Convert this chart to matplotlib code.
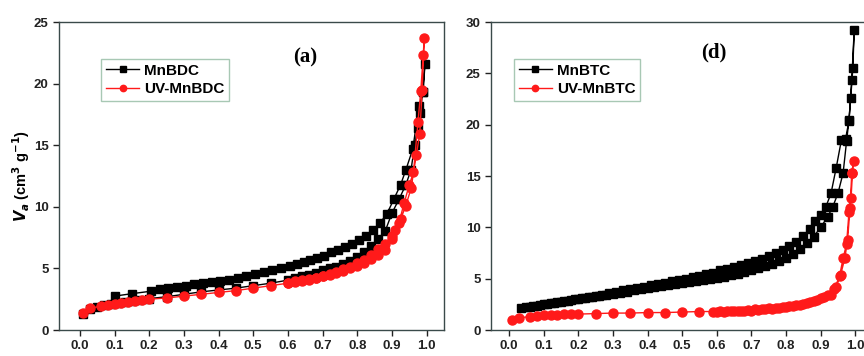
import matplotlib
matplotlib.use("Agg")
from matplotlib import pyplot as plt

# panel (a) - MnBDC / UV-MnBDC
bdc_ads_x = [0.01, 0.03, 0.05, 0.07, 0.09, 0.11, 0.13, 0.15, 0.17, 0.2, 0.25, 0.3, 0.35, 0.4,
             0.45, 0.5, 0.55, 0.6, 0.62, 0.64, 0.66, 0.68, 0.7, 0.72, 0.74, 0.76, 0.78, 0.8,
             0.82, 0.84, 0.86, 0.88, 0.9, 0.92, 0.94, 0.955, 0.965, 0.975, 0.982, 0.988, 0.995]
bdc_ads_y = [1.3, 1.7, 1.9, 2.0, 2.1, 2.2, 2.3, 2.35, 2.4, 2.55, 2.7, 2.9, 3.1, 3.25,
             3.4, 3.6, 3.8, 4.05, 4.2, 4.35, 4.5, 4.65, 4.85, 5.0, 5.15, 5.35, 5.6, 5.9,
             6.3, 6.8, 7.4, 8.0, 9.5, 10.6, 11.8, 13.0, 15.0, 16.4, 17.6, 19.3, 21.6]
bdc_des_x = [0.99, 0.978, 0.96, 0.94, 0.925, 0.905, 0.885, 0.865, 0.845, 0.825, 0.805, 0.785,
             0.765, 0.745, 0.725, 0.705, 0.685, 0.665, 0.645, 0.625, 0.605, 0.58, 0.555, 0.53,
             0.505, 0.48, 0.455, 0.43, 0.405, 0.38, 0.355, 0.33, 0.305, 0.28, 0.255, 0.23,
             0.205, 0.15, 0.1]
bdc_des_y = [19.3, 18.2, 14.7, 13.0, 11.8, 10.6, 9.4, 8.7, 8.1, 7.6, 7.3, 7.0,
             6.7, 6.5, 6.3, 6.0, 5.85, 5.7, 5.5, 5.35, 5.2, 5.0, 4.85, 4.7,
             4.55, 4.4, 4.25, 4.1, 4.0, 3.9, 3.8, 3.7, 3.6, 3.5, 3.4, 3.3,
             3.15, 2.95, 2.75]

uvbdc_ads_x = [0.01, 0.03, 0.06, 0.08, 0.1, 0.12, 0.14, 0.16, 0.18, 0.2, 0.25, 0.3, 0.35, 0.4,
               0.45, 0.5, 0.55, 0.6, 0.62, 0.64, 0.66, 0.68, 0.7, 0.72, 0.74, 0.76, 0.78, 0.8,
               0.82, 0.84, 0.86, 0.88, 0.9, 0.91, 0.925, 0.94, 0.955, 0.97, 0.98, 0.987, 0.993]
uvbdc_ads_y = [1.4, 1.75, 1.95, 2.0, 2.1, 2.2, 2.3, 2.35, 2.4, 2.5, 2.6, 2.75, 2.9, 3.05,
               3.2, 3.4, 3.6, 3.8, 3.9, 4.0, 4.1, 4.2, 4.35, 4.5, 4.65, 4.8, 5.0, 5.2,
               5.45, 5.75, 6.1, 6.5, 7.4, 8.1, 9.0, 10.1, 11.5, 14.2, 15.9, 19.5, 23.7]
uvbdc_des_x = [0.99, 0.983, 0.975, 0.962, 0.95, 0.935, 0.92, 0.9, 0.88, 0.86, 0.84, 0.82,
               0.8, 0.78, 0.76, 0.74, 0.72, 0.7, 0.68, 0.66, 0.64, 0.62, 0.6]
uvbdc_des_y = [22.3, 19.4, 16.9, 12.8, 11.8, 10.3, 8.7, 7.6, 7.0, 6.6, 6.1, 5.7,
               5.4, 5.15, 4.95, 4.75, 4.55, 4.4, 4.25, 4.15, 4.05, 3.95, 3.85]

# panel (d) - MnBTC / UV-MnBTC
btc_ads_x = [0.035, 0.06, 0.08, 0.1, 0.12, 0.14, 0.16, 0.18, 0.2, 0.22, 0.24, 0.26, 0.28, 0.3,
             0.32, 0.34, 0.36, 0.38, 0.4, 0.42, 0.44, 0.46, 0.48, 0.5, 0.52, 0.54, 0.56, 0.58,
             0.6, 0.62, 0.64, 0.66, 0.68, 0.7, 0.72, 0.74, 0.76, 0.78, 0.8, 0.82, 0.84, 0.86,
             0.88, 0.9, 0.92, 0.935, 0.95, 0.965, 0.975, 0.982, 0.987, 0.993, 0.997]
btc_ads_y = [2.1, 2.2, 2.35, 2.5, 2.6, 2.7, 2.85, 2.95, 3.05, 3.15, 3.25, 3.35, 3.45, 3.55,
             3.65, 3.75, 3.85, 3.95, 4.05, 4.15, 4.25, 4.35, 4.45, 4.55, 4.65, 4.75, 4.85, 4.95,
             5.05, 5.2, 5.35, 5.5, 5.65, 5.8, 6.0, 6.2, 6.4, 6.7, 7.0, 7.4, 7.9, 8.5,
             9.1, 10.0, 11.0, 12.0, 13.3, 15.3, 18.4, 20.5, 22.6, 25.5, 29.2]
btc_des_x = [0.99, 0.982, 0.972, 0.96, 0.945, 0.93, 0.915, 0.9, 0.885, 0.87, 0.85, 0.83,
             0.81, 0.79, 0.77, 0.75, 0.73, 0.71, 0.69, 0.67, 0.65, 0.63, 0.61, 0.59, 0.57,
             0.55, 0.53, 0.51, 0.49, 0.47, 0.45, 0.43, 0.41, 0.39, 0.37, 0.35, 0.33, 0.31,
             0.29, 0.27, 0.25, 0.23, 0.21, 0.19, 0.17, 0.15, 0.13, 0.11, 0.09, 0.07, 0.05]
btc_des_y = [24.4, 20.4, 18.6, 18.5, 15.8, 13.3, 12.0, 11.2, 10.6, 9.8, 9.2, 8.6,
             8.2, 7.8, 7.5, 7.2, 6.9, 6.7, 6.5, 6.3, 6.1, 5.9, 5.8, 5.6, 5.45,
             5.3, 5.15, 5.0, 4.9, 4.75, 4.6, 4.5, 4.35, 4.2, 4.1, 3.95, 3.85, 3.7,
             3.6, 3.45, 3.35, 3.2, 3.1, 3.0, 2.85, 2.75, 2.6, 2.5, 2.4, 2.3, 2.2]

uvbtc_ads_x = [0.01, 0.03, 0.06, 0.08, 0.1, 0.12, 0.14, 0.16, 0.18, 0.2, 0.25, 0.3, 0.35, 0.4,
               0.45, 0.5, 0.55, 0.6, 0.62, 0.64, 0.66, 0.68, 0.7, 0.72, 0.74, 0.76, 0.78, 0.8,
               0.82, 0.84, 0.86, 0.88, 0.9, 0.92, 0.94, 0.955, 0.965, 0.975, 0.982, 0.988,
               0.992, 0.995]
uvbtc_ads_y = [1.0, 1.2, 1.3, 1.4, 1.45, 1.5, 1.5, 1.55, 1.55, 1.55, 1.6, 1.65, 1.65, 1.7,
               1.7, 1.75, 1.8, 1.8, 1.8, 1.85, 1.85, 1.9, 1.9, 1.95, 2.0, 2.05, 2.1, 2.2,
               2.3, 2.45, 2.6, 2.8, 3.1, 3.4, 4.0, 5.3, 7.0, 8.4, 11.5, 12.9, 15.3, 16.5]
uvbtc_des_x = [0.99, 0.985, 0.978, 0.97, 0.958, 0.945, 0.93, 0.91, 0.89, 0.87, 0.85, 0.83,
               0.81, 0.79, 0.77, 0.75, 0.73, 0.71, 0.69, 0.67, 0.65, 0.63, 0.61, 0.59]
uvbtc_des_y = [15.3, 11.9, 8.8, 7.0, 5.4, 4.2, 3.4, 3.2, 2.95, 2.7, 2.55, 2.4,
               2.3, 2.2, 2.15, 2.1, 2.05, 2.0, 1.95, 1.9, 1.9, 1.85, 1.85, 1.8]

xticks = [0.0, 0.1, 0.2, 0.3, 0.4, 0.5, 0.6, 0.7, 0.8, 0.9, 1.0]

plt.rcParams['font.family'] = ['Liberation Sans', 'DejaVu Sans']
plt.rcParams['font.weight'] = 'bold'

fig = plt.figure(figsize=(8.64, 3.56), dpi=100)
ax1 = fig.add_axes([0.0683, 0.073, 0.4456, 0.865])
ax2 = fig.add_axes([0.5683, 0.073, 0.4456, 0.865])

panels = [
    (ax1, bdc_ads_x + bdc_des_x, bdc_ads_y + bdc_des_y,
     uvbdc_ads_x + uvbdc_des_x, uvbdc_ads_y + uvbdc_des_y,
     'MnBDC', 'UV-MnBDC', 25, [0, 5, 10, 15, 20, 25], '(a)', (0.64, 0.885), 0.09, -0.06, 1.05),
    (ax2, btc_ads_x + btc_des_x, btc_ads_y + btc_des_y,
     uvbtc_ads_x + uvbtc_des_x, uvbtc_ads_y + uvbtc_des_y,
     'MnBTC', 'UV-MnBTC', 30, [0, 5, 10, 15, 20, 25, 30], '(d)', (0.58, 0.9), 0.04, -0.052, 1.06),
]

for ax, x1, y1, x2, y2, lab1, lab2, ymax, yt, tag, tagpos, legx, xlo, xhi in panels:
    ax.plot(x1, y1, '-s', color='black', lw=1.0, ms=6, label=lab1)
    ax.plot(x2, y2, '-o', color='#ff1a1a', lw=1.0, ms=6.5, label=lab2)
    ax.set_xlim(xlo, xhi)
    ax.set_ylim(0, ymax)
    ax.set_xticks(xticks)
    ax.set_xticklabels(['%.1f' % t for t in xticks])
    ax.set_yticks(yt)
    ax.tick_params(direction='out', length=4, width=1, labelsize=9.5, colors='#222222')
    for s in ax.spines.values():
        s.set_color('#3a4a4a')
        s.set_linewidth(1.0)
    leg = ax.legend(loc='upper left', bbox_to_anchor=(legx, 0.905), fontsize=11,
                    markerscale=0.7, handlelength=2.2, handletextpad=0.3,
                    borderpad=0.3, labelspacing=0.3, fancybox=False, framealpha=1)
    leg.get_frame().set_edgecolor('#a8c8b4')
    leg.get_frame().set_linewidth(1.0)
    ax.text(tagpos[0], tagpos[1], tag, transform=ax.transAxes, ha='center', va='center',
            fontsize=15, fontweight='bold', family='Liberation Serif')

ax1.set_ylabel(r'$\bf{\it{V}_a}$ (cm$\bf^3$ g$\bf^{-1}$)', fontsize=10.5, fontweight='bold',
               labelpad=1)

fig.savefig('out.png', dpi=100)
